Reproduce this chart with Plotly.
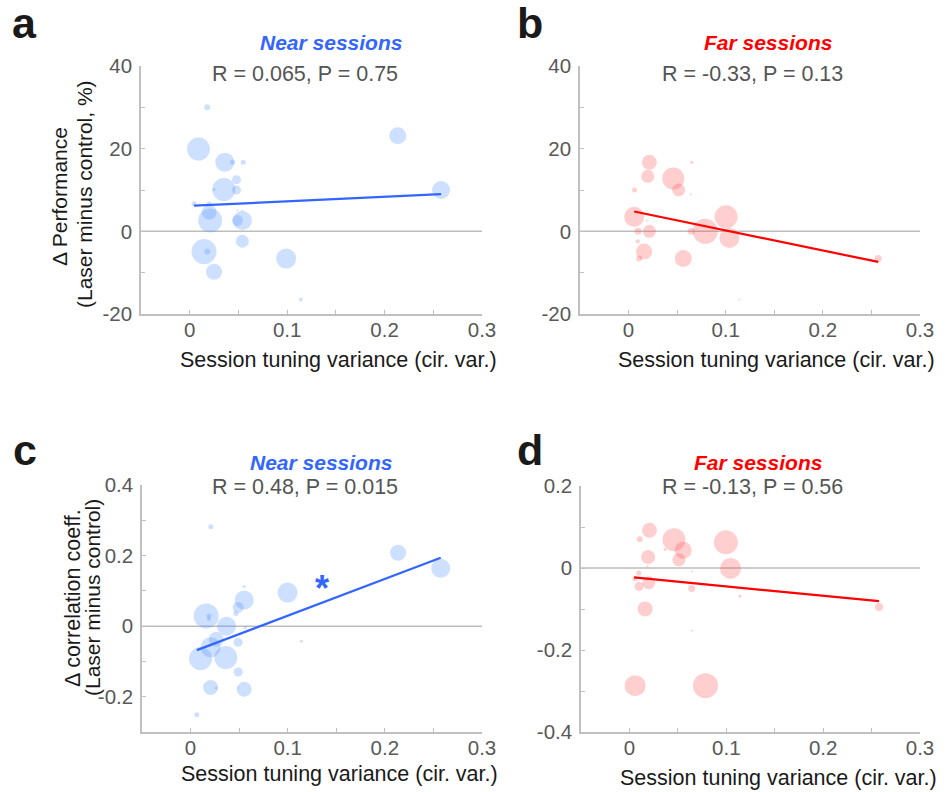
import plotly.graph_objects as go
from plotly.subplots import make_subplots

# ---------------- data ----------------
# Panel a: Near sessions, Δ performance
a_x = [0.018, 0.009, 0.2135, 0.036, 0.044, 0.055, 0.048, 0.035, 0.048, 0.025, 0.258, 0.0044, 0.020,
       0.020, 0.021, 0.049, 0.054, 0.049, 0.054, 0.054, 0.0147, 0.018, 0.025, 0.099, 0.114]
a_y = [30.0, 19.9, 23.1, 16.7, 16.7, 16.7, 12.5, 10.1, 10.0, 10.1, 10.0, 6.7, 6.6,
       4.6, 2.6, 2.6, 2.6, 5.1, 5.0, -2.4, -4.9, -4.9, -9.8, -6.6, -16.5]
a_size = [6, 23, 17, 19, 5, 5, 9, 23, 9, 3, 18, 5, 5,
          15, 24, 11, 19, 2, 2, 13, 25, 6, 16, 20, 4]
a_fit_x = [0.0044, 0.258]
a_fit_y = [6.2, 9.0]

# Panel b: Far sessions, Δ performance
b_x = [0.0214, 0.0197, 0.046, 0.0516, 0.065, 0.064, 0.0061, 0.0058, 0.0187, 0.0098, 0.0214,
       0.0095, 0.016, 0.0109, 0.0645, 0.079, 0.1004, 0.1038, 0.0563, 0.114, 0.257]
b_y = [16.7, 13.3, 12.8, 10.0, 16.7, 8.9, 10.0, 3.5, 2.6, 0.0, 0.0,
       -2.4, -4.9, -6.6, 0.0, 0.0, 3.5, -1.6, -6.6, -16.5, -6.6]
b_size = [15, 13, 22, 13, 3, 2, 5, 20, 2, 7, 13,
          4, 16, 6, 7, 25, 23, 20, 17, 2, 7]
b_fit_x = [0.0058, 0.257]
b_fit_y = [4.8, -7.4]

# Panel c: Near sessions, Δ correlation coefficient
c_x = [0.0209, 0.2136, 0.2575, 0.0998, 0.0552, 0.0552, 0.049, 0.0466, 0.0161, 0.019, 0.0189, 0.037,
       0.0562, 0.0264, 0.0206, 0.0103, 0.0363, 0.049, 0.114, 0.049, 0.0206, 0.0264, 0.0552, 0.049, 0.0065]
c_y = [0.282, 0.208, 0.164, 0.095, 0.112, 0.074, 0.053, 0.036, 0.029, 0.029, 0.020, 0.0,
       -0.004, -0.037, -0.060, -0.092, -0.089, -0.046, -0.043, -0.130, -0.174, -0.175, -0.179, -0.175, -0.251]
c_size = [5, 16, 19, 20, 3, 19, 11, 5, 25, 5, 4, 19,
          3, 15, 20, 23, 23, 9, 3, 9, 15, 3, 15, 2, 5]
c_fit_x = [0.0065, 0.2575]
c_fit_y = [-0.068, 0.194]

# Panel d: Far sessions, Δ correlation coefficient
d_x = [0.0207, 0.0107, 0.046, 0.0555, 0.051, 0.0369, 0.0996, 0.1044, 0.0193, 0.0186, 0.0096,
       0.0055, 0.02, 0.01, 0.0644, 0.0644, 0.114, 0.0162, 0.0648, 0.0059, 0.0785, 0.2577]
d_y = [0.092, 0.070, 0.069, 0.043, 0.020, 0.045, 0.0625, -0.001, 0.027, 0.004, -0.012,
       -0.026, -0.036, -0.045, -0.008, -0.050, -0.069, -0.0998, -0.153, -0.287, -0.287, -0.095]
d_size = [15, 6, 23, 17, 13, 3, 24, 21, 14, 2, 5,
          5, 13, 9, 2, 7, 3, 15, 2, 21, 25, 8]
d_fit_x = [0.0048, 0.2577]
d_fit_y = [-0.023, -0.081]

# ticks
x_tickvals = [0, 0.1, 0.2, 0.3]
x_ticktext = ["0", "0.1", "0.2", "0.3"]
x_minor = [0.05, 0.15, 0.25]
perf_tickvals = [-20, 0, 20, 40]
perf_ticktext = ["-20", "0", "20", "40"]
perf_minor = [-10, 10, 30]
c_tickvals = [-0.2, 0, 0.2, 0.4]
c_ticktext = ["-0.2", "0", "0.2", "0.4"]
c_minor = [-0.3, -0.1, 0.1, 0.3]
d_tickvals = [-0.4, -0.2, 0, 0.2]
d_ticktext = ["-0.4", "-0.2", "0", "0.2"]
d_minor = [-0.3, -0.1, 0.1]

stats_text = ["R = 0.065, P = 0.75", "R = -0.33, P = 0.13", "R = 0.48, P = 0.015", "R = -0.13, P = 0.56"]
group_text = ["Near sessions", "Far sessions", "Near sessions", "Far sessions"]
panel_letters = ["a", "b", "c", "d"]

# ---------------- styling ----------------
W, H = 945, 792
FONT = "Liberation Sans, Arial, Helvetica, sans-serif"
BLUE_FILL = "rgba(80,145,255,0.40)"
RED_FILL = "rgba(255,70,70,0.38)"
BLUE_LINE = "#3366ff"
RED_LINE = "#ff0000"
AXIS_COL = "#c0c0c0"
TICK_FONT_COL = "#595959"

fig = make_subplots(rows=2, cols=2)

panels = [
    (a_x, a_y, a_size, a_fit_x, a_fit_y, BLUE_FILL, BLUE_LINE, 1, 1),
    (b_x, b_y, b_size, b_fit_x, b_fit_y, RED_FILL, RED_LINE, 1, 2),
    (c_x, c_y, c_size, c_fit_x, c_fit_y, BLUE_FILL, BLUE_LINE, 2, 1),
    (d_x, d_y, d_size, d_fit_x, d_fit_y, RED_FILL, RED_LINE, 2, 2),
]
for px_, py_, ps_, fx, fy, fill, lc, r, c in panels:
    fig.add_trace(go.Scatter(x=px_, y=py_, mode="markers",
                             marker=dict(size=ps_, color=fill, line=dict(width=0)),
                             showlegend=False, hoverinfo="skip"), row=r, col=c)
    fig.add_trace(go.Scatter(x=fx, y=fy, mode="lines",
                             line=dict(color=lc, width=2.2),
                             showlegend=False, hoverinfo="skip"), row=r, col=c)

# domains (pixel based)
def xd(l, r):
    return [l / W, r / W]

def yd(top, bottom):
    return [1 - bottom / H, 1 - top / H]

x_domains = [xd(141, 482), xd(580, 920), xd(142, 482), xd(581, 920)]
y_domains = [yd(66, 314), yd(66, 314), yd(485, 732), yd(486, 732)]
y_ranges = [[-20, 40], [-20, 40], [-0.3, 0.4], [-0.4, 0.2]]
y_ticks = [(perf_tickvals, perf_ticktext, perf_minor), (perf_tickvals, perf_ticktext, perf_minor),
           (c_tickvals, c_ticktext, c_minor), (d_tickvals, d_ticktext, d_minor)]

for i in range(4):
    sfx = "" if i == 0 else str(i + 1)
    fig.layout["xaxis" + sfx].update(
        domain=x_domains[i], range=[-0.05, 0.3], showline=True, linecolor=AXIS_COL, linewidth=1.5,
        ticks="inside", ticklen=4, tickwidth=1, tickcolor=AXIS_COL,
        tickvals=x_tickvals, ticktext=x_ticktext,
        minor=dict(tickvals=x_minor, ticks="inside", ticklen=4, tickcolor=AXIS_COL, showgrid=False),
        showgrid=False, zeroline=False, ticklabelstandoff=-3,
        tickfont=dict(family=FONT, size=20.5, color=TICK_FONT_COL), automargin=False)
    tv, tt, mv = y_ticks[i]
    fig.layout["yaxis" + sfx].update(
        domain=y_domains[i], range=y_ranges[i], showline=True, linecolor=AXIS_COL, linewidth=1.5,
        ticks="inside", ticklen=4, tickwidth=1, tickcolor=AXIS_COL,
        tickvals=tv, ticktext=tt,
        minor=dict(tickvals=mv, ticks="inside", ticklen=4, tickcolor=AXIS_COL, showgrid=False),
        showgrid=False, zeroline=False, ticklabelstandoff=3,
        tickfont=dict(family=FONT, size=20.5, color=TICK_FONT_COL), automargin=False)
    # zero reference line
    fig.add_shape(type="line", xref=("x" + sfx + " domain"), yref=("y" + sfx),
                  x0=0, x1=1, y0=0, y1=0, line=dict(color="#bdbdbd", width=1.5), layer="below")

annotations = []

def ann(text, x, y, size, color, angle=0, xanchor="center", yanchor="middle"):
    annotations.append(dict(text=text, x=x / W, y=1 - y / H, xref="paper", yref="paper",
                            showarrow=False, textangle=angle, xanchor=xanchor, yanchor=yanchor,
                            font=dict(family=FONT, size=size, color=color)))

# panel letters
letter_pos = [(24, 23), (530, 23), (25, 450), (530, 450)]
for L, (lx, ly) in zip(panel_letters, letter_pos):
    ann("<b>" + L + "</b>", lx, ly, 43, "#1a1a1a")

# group titles
group_pos = [(331, 43), (768, 43), (321, 463), (758, 463)]
group_col = [BLUE_LINE, RED_LINE, BLUE_LINE, RED_LINE]
for t, (gx, gy), col in zip(group_text, group_pos, group_col):
    ann("<b><i>" + t + "</i></b>", gx, gy, 21, col)

# stats
stats_pos = [(305, 74), (752, 74), (305, 487), (752, 487)]
for t, (sx, sy) in zip(stats_text, stats_pos):
    ann(t, sx, sy, 21.5, "#555555")

# x-axis titles
xt_pos = [(338, 360), (776, 360), (339, 774), (778, 778)]
for (tx, ty) in xt_pos:
    ann("Session tuning variance (cir. var.)", tx, ty, 21.5, "#1a1a1a")

# y-axis titles
ann("Δ Performance", 60, 197, 21, "#1a1a1a", angle=-90)
ann("(Laser minus control, %)", 85, 194, 21, "#1a1a1a", angle=-90)
ann("Δ correlation coeff.", 73, 598, 21.5, "#1a1a1a", angle=-90)
ann("(Laser minus control)", 92, 598, 21, "#1a1a1a", angle=-90)

# significance asterisk (data coords of panel c)
annotations.append(dict(text="<b>*</b>", x=0.1357, y=0.124, xref="x3", yref="y3", showarrow=False,
                        xanchor="center", yanchor="middle", yshift=-6,
                        font=dict(family=FONT, size=36, color=BLUE_LINE)))

fig.update_layout(width=W, height=H, margin=dict(l=0, r=0, t=0, b=0),
                  paper_bgcolor="white", plot_bgcolor="white",
                  annotations=annotations, showlegend=False,
                  font=dict(family=FONT))

fig.write_html("out.html", config={"displayModeBar": False},
               post_script="document.body.style.margin='0';document.body.style.padding='0';")
